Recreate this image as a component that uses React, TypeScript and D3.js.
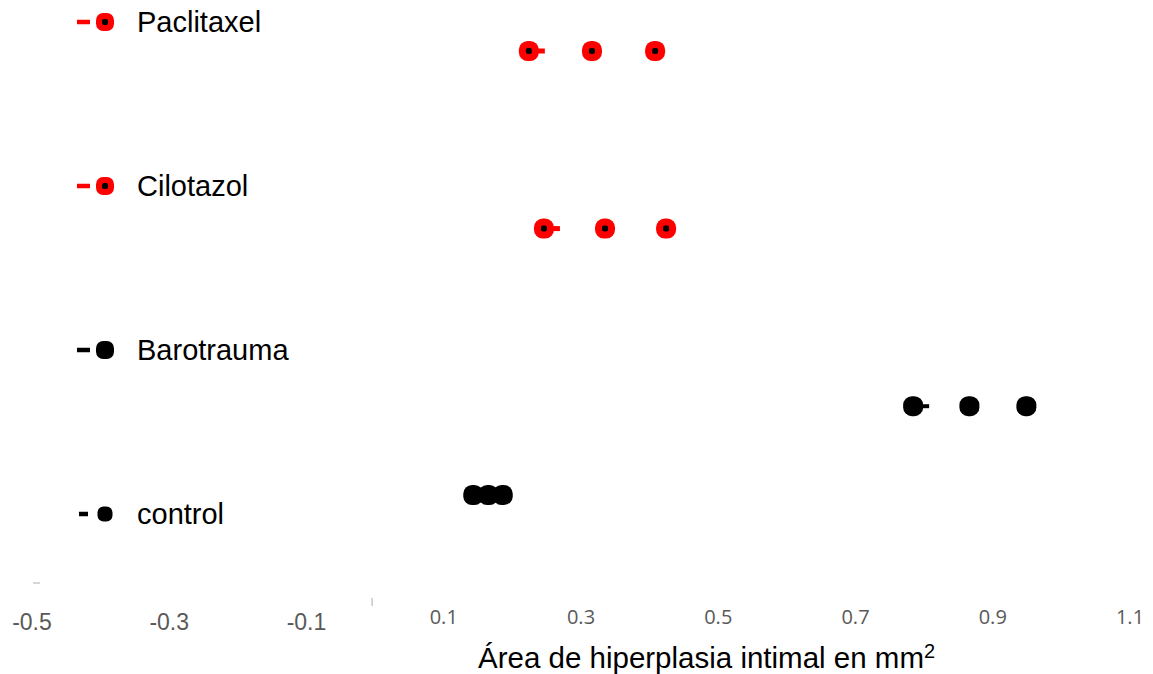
import React from "react";
import * as d3 from "d3";

const groups = ["Paclitaxel", "Cilotazol", "Barotrauma", "control"];
const groupColors = ["#ff0000", "#ff0000", "#000000", "#000000"];
const groupRows = [4, 3, 2, 1.5];
const paclitaxelValues = [0.224, 0.316, 0.408];
const cilotazolValues = [0.246, 0.335, 0.424];
const barotraumaValues = [0.784, 0.866, 0.949];
const controlValues = [0.143, 0.165, 0.186];
const seriesValues = [paclitaxelValues, cilotazolValues, barotraumaValues, controlValues];
const leftTicks = [-0.5, -0.3, -0.1];
const rightTicks = [0.1, 0.3, 0.5, 0.7, 0.9, 1.1];
const axisTitle = "Área de hiperplasia intimal en mm";

const W = 1153;
const H = 674;

export default function App() {
  const x = d3.scaleLinear().domain([-0.5, 1.1]).range([32, 1130]);
  const y = d3.scaleLinear().domain([1.5, 4]).range([495, 51]);
  const legendY = d3.scalePoint<string>().domain(groups).range([22, 514]);
  const fmt = (t: number) => d3.format(".1f")(t).replace("−", "-");
  const size = 20;

  return (
    <svg
      width={W}
      height={H}
      style={{ position: "absolute", left: 0, top: 0, background: "#fff" }}
      fontFamily="'Liberation Sans', Arial, sans-serif"
    >
      {/* legend */}
      {groups.map((g, i) => {
        const cy = legendY(g)!;
        const c = groupColors[i];
        const s = i === 3 ? 15 : 18;
        return (
          <g key={g}>
            <line x1={i === 3 ? 79 : 77} x2={i === 3 ? 88 : 90} y1={cy} y2={cy} stroke={c} strokeWidth={4.5} />
            <rect x={105 - s / 2} y={cy - s / 2} width={s} height={s} rx={s * 0.4} fill={c} />
            {i < 2 && <rect x={105 - 3} y={cy - 3} width={6} height={6} rx={2} fill="#000" />}
            <text x={137} y={cy + 10} fontSize={29} fill="#000">{g}</text>
          </g>
        );
      })}

      {/* data points */}
      {seriesValues.map((vals, i) => {
        const cy = y(groupRows[i]);
        const c = groupColors[i];
        return (
          <g key={groups[i]}>
            {i < 3 && (
              <line x1={x(vals[0])} x2={x(vals[0]) + 16} y1={cy} y2={cy} stroke={c} strokeWidth={i < 2 ? 5 : 4} />
            )}
            {vals.map((v, j) => (
              <g key={j}>
                <rect x={x(v) - size / 2} y={cy - size / 2} width={size} height={size} rx={size * 0.44} fill={c} />
                {i < 2 && <rect x={x(v) - 3} y={cy - 3} width={6} height={6} rx={2} fill="#000" />}
              </g>
            ))}
          </g>
        );
      })}

      {/* axis remnants */}
      <line x1={x(-0.5) + 1} x2={x(-0.5) + 8} y1={583} y2={583} stroke="#c8c8c8" strokeWidth={1.5} />
      <line x1={x(0) - 3} x2={x(0) - 3} y1={598} y2={606} stroke="#c8c8c8" strokeWidth={1.5} />

      {/* tick labels */}
      {leftTicks.map((t) => (
        <text key={t} x={x(t)} y={630} fontSize={23} fill="#595959" textAnchor="middle">{fmt(t)}</text>
      ))}
      {rightTicks.map((t) => (
        <text key={t} x={x(t)} y={624} fontSize={20} fill="#595959" textAnchor="middle"
          fontFamily="'Open Sans', sans-serif">{fmt(t)}</text>
      ))}

      {/* axis title */}
      <text x={478} y={668} fontSize={29.5} fill="#000">
        {axisTitle}
        <tspan dy={-10} fontSize={20}>2</tspan>
      </text>
    </svg>
  );
}
